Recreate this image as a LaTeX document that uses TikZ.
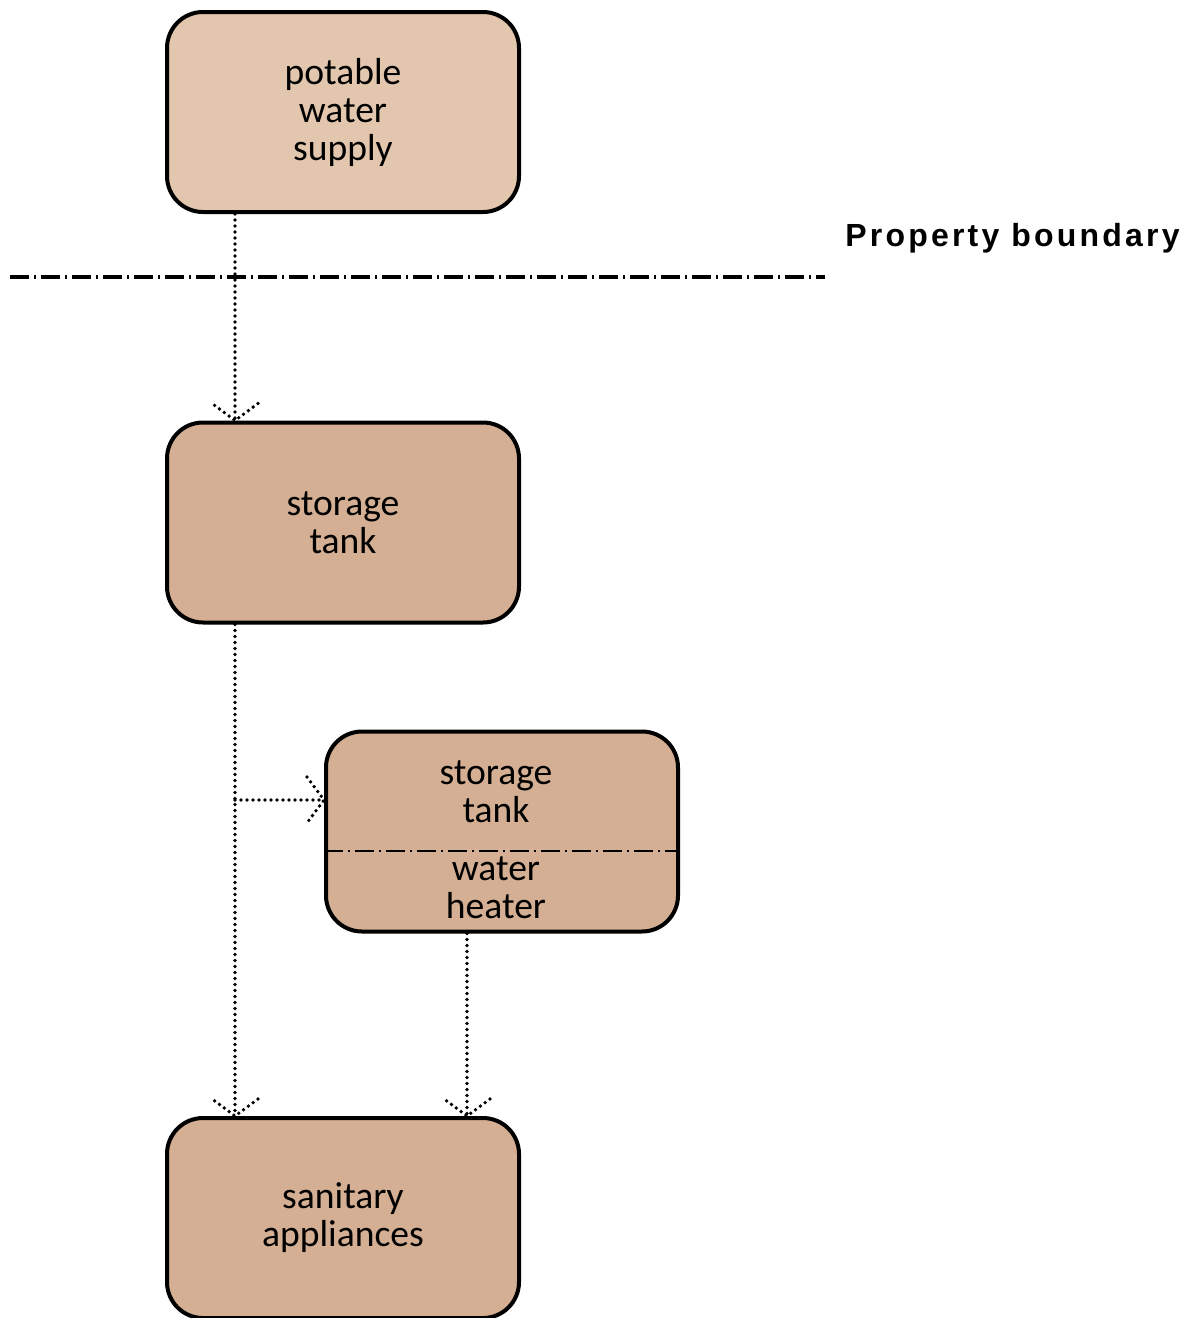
\documentclass[tikz,border=0pt]{standalone}
\usepackage{fontspec}
\setmainfont{Carlito}
\newfontfamily\boundfont[LetterSpace=10]{Liberation Sans}
\usetikzlibrary{decorations.markings}
\definecolor{Supply}{HTML}{E2C6AE}
\definecolor{Tank}{HTML}{D4AF93}

\tikzset{
  unit/.style={draw,line width=2pt,rounded corners=18pt,
    minimum width=176pt,minimum height=100pt,align=center,
    font=\fontsize{18.8}{19}\selectfont},
  part/.style={align=center,inner sep=0pt,
    font=\fontsize{18.8}{19}\selectfont},
  boundary/.style={line width=1.6pt,
    dash pattern=on 9.5pt off 2.5pt on 1pt off 2.5pt},
  dothead/.style={line width=1.9pt,line cap=round,dash pattern=on 0pt off 3pt},
  flow/.style={dothead,postaction={decorate},
    decoration={markings,mark=at position 1 with
      {\draw[dothead] (-8.5pt,11.5pt)--(0,0)--(-8.5pt,-11.5pt);}}}
}

\begin{document}
\begin{tikzpicture}[x=0.5pt,y=-0.5pt]
        \useasboundingbox (0,0) rectangle (1181,1318);

        \node[unit,fill=Supply] (supply) at (343,112)
          {potable\\water\\supply};
        \node[unit,fill=Tank] (tank) at (343,522.5)
          {storage\\tank};
        \node[unit,fill=Tank] (heater) at (502,831.5) {};
        \node[part] (heatertop) at (496,792) {storage\\tank};
        \node[part] (heaterbot) at (496,888) {water\\heater};
        \node[unit,fill=Tank] (appl) at (343,1218)
          {sanitary\\appliances};

        % property line
        \coordinate (bl) at (10,277);
        \coordinate (br) at (825,277);
        \draw[boundary] (bl) -- (br);
        \node[anchor=base west,inner sep=0pt,
          font=\boundfont\bfseries\fontsize{16}{19}\selectfont]
          (boundlabel) at (845,246) {Property boundary};

        % divider inside the heater
        \draw[line width=1pt,dash pattern=on 9.5pt off 2.5pt on 1pt off 2.5pt]
          (heater.west |- 0,851) -- (heater.east |- 0,851);

        % pipes
        \draw[flow] ([xshift=-54pt]supply.south) -- ([xshift=-54pt]tank.north);
        \draw[flow] ([xshift=-54pt]tank.south) -- ([xshift=-54pt]appl.north);
        \coordinate (tee) at (235,800);
        \draw[flow] (tee) -- (tee -| heater.west);
        \draw[flow] ([xshift=-17.5pt]heater.south) coordinate (hx)
          -- (hx |- appl.north);
      \end{tikzpicture}
\end{document}
